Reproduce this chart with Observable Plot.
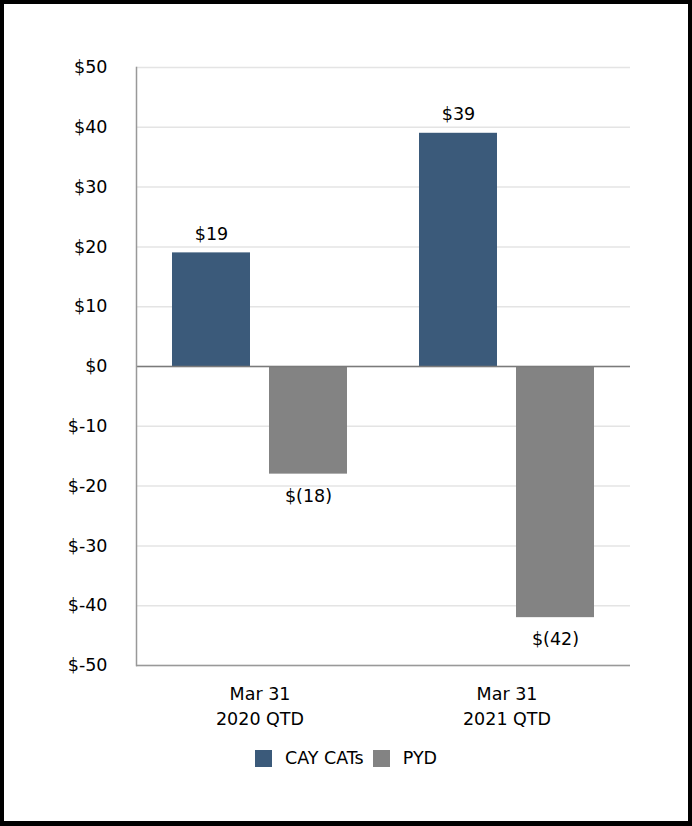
<!DOCTYPE html>
<html><head><meta charset="utf-8">
<script src="https://cdn.jsdelivr.net/npm/d3@7"></script>
<script src="https://cdn.jsdelivr.net/npm/@observablehq/plot@0.6"></script>
<style>
html,body{margin:0;padding:0;background:#fff;}
#frame{width:692px;height:826px;box-sizing:border-box;border:4px solid #000;border-bottom-width:5px;font-family:"DejaVu Sans",sans-serif;color:#000;overflow:hidden;}
#chart svg{display:block;}
#legend{display:flex;justify-content:center;align-items:center;margin-top:9px;font-size:17.5px;height:20px;}
.item{display:flex;align-items:center;}
.sw{width:17px;height:17px;display:inline-block;}
</style>
</head><body>
<div id="frame"><div id="chart"></div><div id="legend"></div></div>
<script>
const periods = ["Mar 31\n2020 QTD", "Mar 31\n2021 QTD"];
const seriesNames = ["CAY CATs", "PYD"];
const cayCats = [19, 39];
const pyd = [-18, -42];
const yTicks = [-50, -40, -30, -20, -10, 0, 10, 20, 30, 40, 50];
const seriesColors = ["#3b5a7a", "#838383"];

const rows = [];
periods.forEach((p, i) => {
  rows.push({period: p, series: seriesNames[0], value: cayCats[i]});
  rows.push({period: p, series: seriesNames[1], value: pyd[i]});
});
const fmtBar = v => v < 0 ? `$(${-v})` : `$${v}`;
const pos = rows.filter(d => d.value >= 0);
const neg = rows.filter(d => d.value < 0);

const chart = Plot.plot({
  width: 684,
  height: 735,
  marginLeft: 132,
  marginRight: 58,
  marginTop: 63,
  marginBottom: 74,
  style: {fontFamily: "'DejaVu Sans', sans-serif", fontSize: "17.5px", color: "#000", background: "#fff"},
  fx: {domain: periods, padding: 0, label: null},
  x: {domain: seriesNames, paddingInner: 0.194, paddingOuter: 0.36, axis: null, label: null},
  y: {domain: [-50, 50], label: null},
  color: {domain: seriesNames, range: seriesColors},
  marks: [
    Plot.gridY({ticks: yTicks, stroke: "#e4e4e4", strokeOpacity: 1, strokeWidth: 1.5}),
    Plot.barY(rows, {fx: "period", x: "series", y: "value", fill: "series"}),
    Plot.ruleY([0], {stroke: "#7a7a7a", strokeWidth: 1.5}),
    Plot.ruleY([-50], {stroke: "#999", strokeWidth: 1.5}),
    Plot.frame({anchor: "left", facetAnchor: "left", stroke: "#999", strokeWidth: 1.5}),
    Plot.text(pos, {fx: "period", x: "series", y: "value", text: d => fmtBar(d.value), lineAnchor: "bottom", dy: -13, fill: "#000"}),
    Plot.text(neg, {fx: "period", x: "series", y: "value", text: d => fmtBar(d.value), lineAnchor: "top", dy: 15, fill: "#000"}),
    Plot.axisY({ticks: yTicks, tickFormat: d => "$" + d, tickSize: 0, tickPadding: 29, label: null, fill: "#000"}),
    Plot.axisFx({anchor: "bottom", tickSize: 0, tickPadding: 16, lineHeight: 1.45, label: null, fill: "#000"})
  ]
});
document.getElementById("chart").appendChild(chart);

const legend = document.getElementById("legend");
seriesNames.forEach((name, i) => {
  const item = document.createElement("span");
  item.className = "item";
  item.style.marginRight = i === 0 ? "9px" : "0";
  const sw = document.createElement("span");
  sw.className = "sw";
  sw.style.background = seriesColors[i];
  sw.style.marginRight = "13px";
  const t = document.createElement("span");
  t.textContent = name;
  item.appendChild(sw);
  item.appendChild(t);
  legend.appendChild(item);
});
</script>
</body></html>
